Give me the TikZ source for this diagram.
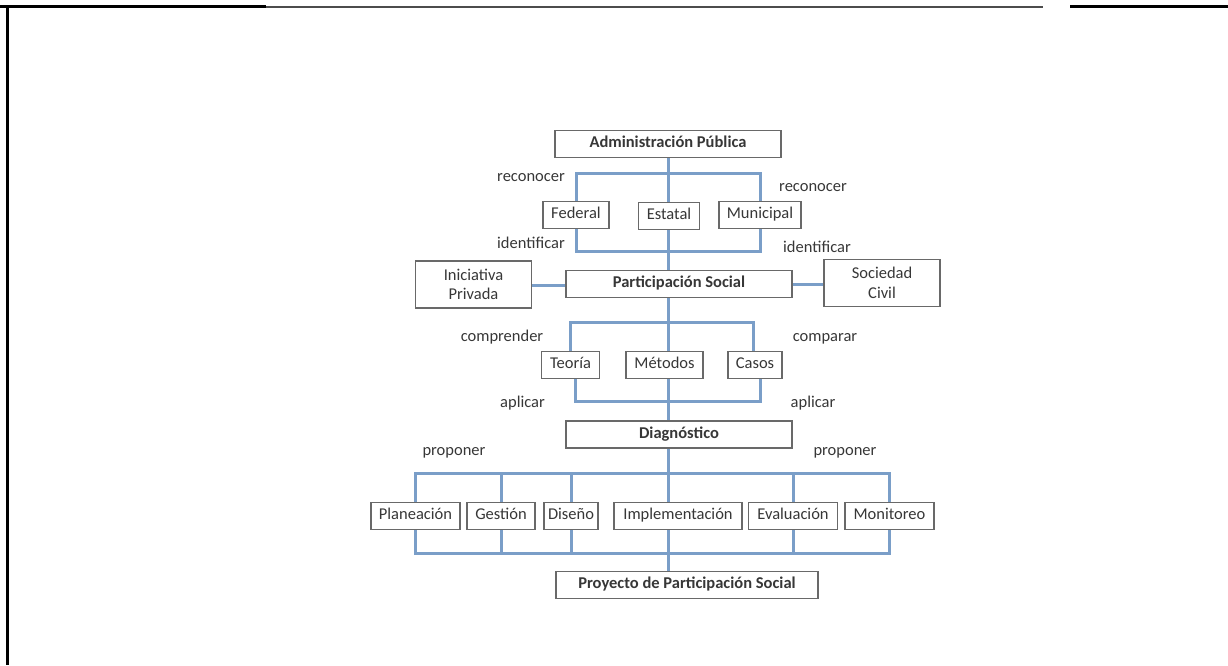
\documentclass[tikz,border=0pt]{standalone}
\usepackage{fontspec}
\setmainfont{Carlito}
\usepackage{tikz}
\usetikzlibrary{positioning,calc}
\definecolor{linkblue}{RGB}{122,158,200}
\definecolor{boxgray}{RGB}{105,105,105}
\definecolor{txtgray}{RGB}{55,55,55}
\tikzset{
    boxS/.style={draw=boxgray, line width=1.5pt, fill=white, minimum height=27pt, inner sep=0pt,
                 text=txtgray, font=\fontsize{16.5}{19.5}\selectfont, text height=11pt, text depth=4pt},
    boxM/.style={boxS, font=\fontsize{16.5}{19.5}\selectfont\bfseries, minimum width=226pt},
    boxW/.style={boxS, minimum width=116pt, minimum height=47pt, align=center, text height=, text depth=},
    verb/.style={text=txtgray, font=\fontsize{16.5}{19.5}\selectfont, inner sep=0pt, text height=11pt, text depth=4pt},
    link/.style={draw=linkblue, line width=3pt},
    frame/.style={line width=3pt},
}
\begin{document}
\begin{tikzpicture}[x=1pt,y=-1pt]
    \useasboundingbox (0,0) rectangle (1228,665);

    % page frame
    \draw[frame] (0,6) -- (266,6);
    \draw[frame, line width=2pt, black!70] (266,6.5) -- (1043,6.5);
    \draw[frame] (1070,6) -- (1228,6);
    \draw[frame] (7.5,5) -- (7.5,665);

    % trunk coordinates
    \coordinate (r1) at (668,173);
    \coordinate (r2) at (668,251);
    \coordinate (r3) at (668,322);
    \coordinate (r4) at (668,401);
    \coordinate (r5) at (668,473);
    \coordinate (r6) at (668,553);

    % level 1
    \node[boxM] (adm) at (668,144) {Administración Pública};
    \node[boxS, minimum width=66pt] (fed) at (576,215) {Federal};
    \node[boxS, minimum width=61pt] (est) at (669,216) {Estatal};
    \node[boxS, minimum width=82pt] (mun) at (760,215) {Municipal};
    \node[verb] (rec1) at (531,178) {reconocer};
    \node[verb] (rec2) at (813,188) {reconocer};
    \node[verb] (ide1) at (531,245) {identificar};
    \node[verb] (ide2) at (817,249) {identificar};

    \draw[link] (fed.north) |- (r1) -| (mun.north);
    \draw[link] (fed.south) |- (r2) -| (mun.south);
    \draw[link] (adm.south -| r1) -- (est.north -| r1);
    \draw[link] (est.south -| r2) -- (r2);

    % level 2
    \node[boxM] (par) at (679,284) {Participación Social};
    \node[boxW] (ini) at (473.5,284.5) {Iniciativa\\Privada};
    \node[boxW] (soc) at (882,283) {Sociedad\\Civil};
    \draw[link] (r2) -- (par.north -| r2);
    \draw[link] (ini.east |- 0,285) -- (par.west |- 0,285);
    \draw[link] (par.east |- 0,284) -- (soc.west |- 0,284);

    % level 3
    \node[boxS, minimum width=58pt] (teo) at (570.5,365) {Teoría};
    \node[boxS, minimum width=77pt] (met) at (664.5,365) {Métodos};
    \node[boxS, minimum width=54pt] (cas) at (755,365) {Casos};
    \node[verb] (com1) at (502,338) {comprender};
    \node[verb] (com2) at (825,338) {comparar};
    \node[verb] (apl1) at (522.5,404) {aplicar};
    \node[verb] (apl2) at (813,404) {aplicar};

    \draw[link] (par.south -| r3) -- (met.north -| r3);
    \draw[link] (teo.north) |- (r3) -| ([xshift=-2pt]cas.north);
    \draw[link] ([xshift=5pt]teo.south) |- (r4) -| ([xshift=5pt]cas.south);
    \draw[link] (met.south -| r4) -- (r4);

    % level 4
    \node[boxM] (dia) at (679,434.5) {Diagnóstico};
    \draw[link] (r4) -- (dia.north -| r4);
    \node[verb] (pro1) at (454,452) {proponer};
    \node[verb] (pro2) at (845,452) {proponer};

    \node[boxS, minimum width=89pt] (pla) at (415.5,516) {Planeación};
    \node[boxS, minimum width=68pt] (ges) at (501,516) {Gestión};
    \node[boxS, minimum width=54pt] (dis) at (571,516) {Diseño};
    \node[boxS, minimum width=128pt] (imp) at (678,516) {Implementación};
    \node[boxS, minimum width=89pt] (eva) at (793,516) {Evaluación};
    \node[boxS, minimum width=89pt] (mon) at (889.5,516) {Monitoreo};

    \draw[link] (dia.south -| r5) -- (imp.north -| r5);
    \draw[link] (pla.north) |- (r5) -| (mon.north);
    \draw[link] (pla.south) |- (r6) -| (mon.south);
    \foreach \n in {ges,dis,eva}{
        \draw[link] (\n.north) -- (\n.north |- r5);
        \draw[link] (\n.south) -- (\n.south |- r6);
    }
    \draw[link] (imp.south -| r6) -- (r6);

    % level 5
    \node[boxM, minimum width=262pt] (pps) at (687,585) {Proyecto de Participación Social};
    \draw[link] (r6) -- (pps.north -| r6);
\end{tikzpicture}
\end{document}
